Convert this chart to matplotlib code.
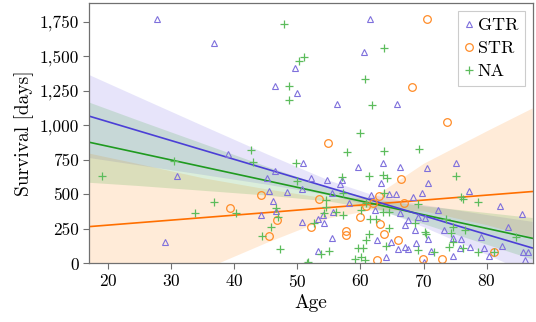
import matplotlib
matplotlib.use("Agg")
import matplotlib.pyplot as plt
from matplotlib.lines import Line2D
from matplotlib.ticker import FuncFormatter
import numpy as np

plt.rcParams["font.family"] = ["cmr10", "DejaVu Serif"]
plt.rcParams["axes.formatter.use_mathtext"] = True
plt.rcParams["mathtext.fontset"] = "cm"

# scatter data: (age, survival days)
gtr_age = [27.8, 36.8, 49.6, 46.4, 49.9, 61.5, 60.6, 56.3, 65.8,
           50.9, 59.6, 63.6, 66.3, 70.5, 75.2,
           52.2, 54.7, 56.7, 57.1, 50.8, 55.5, 61.6, 64.5, 65.7, 58.2, 55.7, 54.1,
           50.8, 54.2, 53.3, 66.2, 67.0, 67.5, 55.5, 62.7, 64.9, 67.0, 53.3, 64.1,
           65.9, 67.5, 62.3, 63.3, 70.7, 69.8, 77.2, 68.3, 72.3, 82.1, 85.6, 69.1,
           70.3, 68.6, 73.3, 74.6, 75.9, 79.1, 83.3, 68.8, 70.7, 75.7, 77.3, 79.5,
           82.5, 71.2, 74.6, 80.3, 85.7, 86.5, 86.1, 70.0,
           31.0, 29.1, 39.0, 45.2, 46.5, 45.5, 48.3, 46.2, 46.6, 44.2]
gtr_days = [1770, 1595, 1416, 1285, 1230, 1771, 1532, 1155, 1153,
            730, 701, 730, 696, 689, 725,
            621, 604, 575, 600, 537, 513, 496, 501, 501, 440, 375, 351,
            303, 295, 319, 363, 278, 315, 182, 170, 158, 121, 92, 49,
            102, 102, 387, 583, 580, 508, 525, 479, 387, 416, 356, 339,
            327, 242, 242, 182, 177, 194, 260, 150, 175, 109, 117, 109,
            125, 92, 54, 54, 85, 85, 25, 13,
            633, 153, 790, 617, 665, 527, 520, 452, 380, 353]

str_age = [54.8, 73.7, 68.2, 70.5, 66.5, 63.0, 53.5, 60.9, 62.0, 66.9, 60.0, 63.1,
           63.7, 66.0, 57.7, 57.7, 52.2, 62.6, 69.9, 72.9, 81.1, 44.3, 39.4, 46.8, 45.5]
str_days = [870, 1020, 1276, 1769, 609, 488, 464, 416, 440, 440, 334, 286,
            211, 170, 237, 206, 266, 25, 32, 30, 85, 496, 404, 315, 201]

na_age = [47.9, 50.3, 51.0, 48.7, 48.7, 63.7, 60.8, 61.8, 59.9, 57.9, 63.7, 69.2,
          49.75, 50.0, 61.4, 63.5, 64.2, 57.1, 57.2, 54.6, 54.6, 54.3, 56.2, 57.2,
          60.9, 60.1, 63.6, 64.6, 61.5, 62.5, 52.6, 64.6, 61.4, 60.9, 55.0, 53.8,
          59.6, 60.4, 60.1, 59.1, 60.7, 64.1, 51.7, 63.7,
          75.2, 75.9, 76.2, 78.6, 69.1, 68.7, 70.2, 70.4, 74.4, 74.6, 76.5, 74.1,
          71.7, 76.2, 78.6, 81.2, 84.7, 69.1, 73.6, 74.6,
          19.0, 30.4, 42.7, 43.0, 36.8, 33.8, 40.3, 46.6, 47.0, 45.9, 44.4, 47.2, 51.6]
na_days = [1733, 1462, 1494, 1283, 1182, 1561, 1336, 1143, 947, 805, 812, 829,
           730, 597, 636, 641, 617, 624, 508, 459, 411, 363, 375, 351,
           435, 387, 375, 375, 319, 319, 295, 254, 213, 170, 92, 68,
           109, 109, 49, 30, 25, 126, 13, 512,
           629, 479, 467, 447, 431, 290, 230, 213, 223, 158, 242, 117,
           85, 109, 85, 85, 189, 97, 319, 266,
           629, 742, 822, 737, 447, 368, 363, 404, 334, 266, 199, 104, 5]

# regression lines and confidence bands
fit_age = [17, 25, 35, 45, 55, 62, 70, 80, 87.2]
gtr_fit = [1066, 957, 821, 685, 549, 454, 345, 209, 112]
gtr_lo = [766, 712, 644, 574, 496, 412, 265, 65, -80]
gtr_hi = [1366, 1202, 998, 796, 602, 496, 425, 353, 304]
na_fit = [877, 798, 699, 600, 501, 432, 352, 253, 182]
na_lo = [587, 563, 529, 495, 451, 396, 287, 138, 32]
na_hi = [1167, 1033, 869, 705, 551, 468, 417, 368, 332]
str_fit = [266, 295, 331, 367, 404, 429, 458, 494, 520]
str_lo = [-264, -170, -45, 150, 330, 390, 380, 280, 190]
str_hi = [798, 720, 620, 540, 470, 480, 725, 960, 1125]

c_gtr, c_str, c_na = "#4b3fd6", "#ff6f00", "#1f9a1f"
m_gtr, m_str, m_na = "#7f70dc", "#ff8c28", "#5cbc5c"

fig = plt.figure(figsize=(5.36, 3.22), dpi=100)
ax = fig.add_axes([0.166, 0.182, 0.828, 0.809])

ax.fill_between(fit_age, gtr_lo, gtr_hi, color="#7a6ee6", alpha=0.18, lw=0)
ax.fill_between(fit_age, str_lo, str_hi, color="#ff8c1a", alpha=0.17, lw=0)
ax.fill_between(fit_age, na_lo, na_hi, color="#2ca02c", alpha=0.17, lw=0)

ax.plot(fit_age, str_fit, color=c_str, lw=1.2)
ax.plot(fit_age, na_fit, color=c_na, lw=1.2)
ax.plot(fit_age, gtr_fit, color=c_gtr, lw=1.2)

ax.plot(gtr_age, gtr_days, ls="none", marker="^", ms=4.5, mfc="none", mec=m_gtr, mew=0.8)
ax.plot(str_age, str_days, ls="none", marker="o", ms=5.5, mfc="none", mec=m_str, mew=0.9)
ax.plot(na_age, na_days, ls="none", marker="+", ms=5.5, mec=m_na, mew=0.9)

ax.set_xlim(17, 87.3)
ax.set_ylim(0, 1885)
ax.set_xticks([20, 30, 40, 50, 60, 70, 80])
ax.set_yticks([0, 250, 500, 750, 1000, 1250, 1500, 1750])
ax.yaxis.set_major_formatter(FuncFormatter(lambda v, p: f"{int(v):,}"))
ax.tick_params(direction="out", length=4, width=0.8, color="#707070", labelsize=12.5, pad=3)
for s in ax.spines.values():
    s.set_color("#707070")
    s.set_linewidth(0.9)

ax.set_xlabel("Age", fontsize=14, labelpad=3)
ax.set_ylabel("Survival [days]", fontsize=14, labelpad=4)

handles = [
    Line2D([], [], ls="none", marker="^", ms=4.5, mfc="none", mec=m_gtr, mew=0.8),
    Line2D([], [], ls="none", marker="o", ms=5.5, mfc="none", mec=m_str, mew=0.9),
    Line2D([], [], ls="none", marker="+", ms=5.5, mec=m_na, mew=0.9),
]
leg = ax.legend(handles, ["GTR", "STR", "NA"], loc="upper right", fontsize=13,
                handlelength=0.5, handletextpad=0.25, borderpad=0.35, labelspacing=0.42,
                borderaxespad=0.45, fancybox=False, framealpha=1)
leg.get_frame().set_edgecolor("#cccccc")
leg.get_frame().set_linewidth(0.8)

fig.savefig("out.png", dpi=100)
